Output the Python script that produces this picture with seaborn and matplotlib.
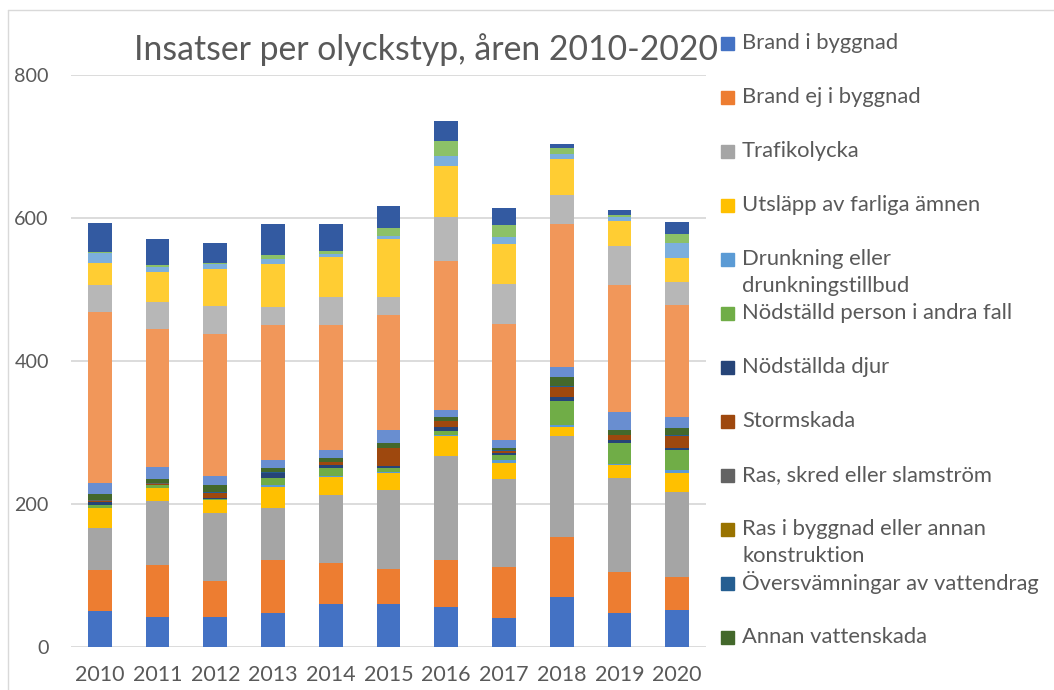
import numpy as np, pandas as pd, matplotlib
matplotlib.use('Agg')
import matplotlib.pyplot as plt
import matplotlib.patches as mpatches
from matplotlib.lines import Line2D
import seaborn as sns

# ── Data (insatser per olyckstyp) ────────────────────────────────────────────
years = ['2010', '2011', '2012', '2013', '2014', '2015', '2016', '2017', '2018', '2019', '2020']

brand_i_byggnad     = [51, 42, 42, 47, 60, 60, 56, 40, 70, 48, 52]
brand_ej_i_byggnad  = [56, 72, 50, 74, 57, 49, 66, 72, 84, 57, 46]
trafikolycka        = [60, 90, 95, 73, 96, 110, 145, 123, 141, 131, 119]
utslapp             = [27, 19, 18, 30, 25, 24, 28, 23, 12, 18, 26]
drunkning           = [1, 0, 1, 2, 1, 2, 1, 3, 3, 2, 5]
nodstalld_person    = [4, 3, 1, 11, 11, 5, 6, 8, 34, 30, 28]
nodstallda_djur     = [4, 1, 2, 7, 5, 3, 6, 2, 5, 4, 2]
stormskada          = [1, 1, 6, 0, 4, 25, 8, 3, 15, 6, 17]
ras_skred           = [1, 1, 1, 0, 0, 0, 0, 0, 0, 0, 0]
ras_i_byggnad       = [0, 1, 0, 0, 0, 0, 0, 0, 0, 0, 0]
oversvamningar      = [1, 0, 1, 1, 0, 1, 0, 1, 1, 1, 1]
annan_vattenskada   = [8, 5, 9, 6, 5, 7, 6, 3, 12, 7, 10]
# series beyond the (cut-off) legend
forsta_dolda        = [16, 17, 13, 10, 12, 17, 9, 11, 14, 24, 16]
automatlarm         = [238, 193, 199, 190, 174, 161, 209, 163, 200, 178, 157]
annan_handelse      = [38, 37, 39, 25, 40, 26, 61, 55, 41, 55, 32]
hjalp_ambulans      = [31, 43, 52, 60, 55, 80, 72, 57, 51, 35, 33]
hjalp_polis         = [14, 7, 6, 7, 5, 5, 14, 10, 7, 6, 21]
sjukvardslarm       = [2, 2, 2, 5, 4, 11, 20, 16, 8, 2, 12]
ovrigt              = [40, 36, 28, 44, 37, 31, 28, 24, 6, 7, 17]

series_names = ['Brand i byggnad', 'Brand ej i byggnad', 'Trafikolycka',
                'Utsläpp av farliga ämnen', 'Drunkning eller\ndrunkningstillbud',
                'Nödställd person i andra fall', 'Nödställda djur', 'Stormskada',
                'Ras, skred eller slamström', 'Ras i byggnad eller annan\nkonstruktion',
                'Översvämningar av vattendrag', 'Annan vattenskada',
                'Förmodad brand', 'Automatlarm ej brand', 'Annan händelse utan risk för skada',
                'Hjälp till ambulans', 'Hjälp till polis', 'Sjukvårdslarm', 'Övrigt']
series_vals = [brand_i_byggnad, brand_ej_i_byggnad, trafikolycka, utslapp, drunkning,
               nodstalld_person, nodstallda_djur, stormskada, ras_skred, ras_i_byggnad,
               oversvamningar, annan_vattenskada, forsta_dolda, automatlarm, annan_handelse,
               hjalp_ambulans, hjalp_polis, sjukvardslarm, ovrigt]

PALETTE = ['#4472C4', '#ED7D31', '#A5A5A5', '#FFC000', '#5B9BD5', '#70AD47',
           '#264478', '#9E480E', '#636363', '#997300', '#255E91', '#43682B',
           '#698ED0', '#F1975A', '#B7B7B7', '#FFCD33', '#7CAFDD', '#8CC168', '#335AA1']
N_LEGEND = 12
TXT = '#595959'
GRID = '#D9D9D9'

sns.set_style('white')
plt.rcParams['font.family'] = ['Lato', 'DejaVu Sans']

W, H = 1054, 690
fig = plt.figure(figsize=(W / 100, H / 100), dpi=100)
ax = fig.add_axes([71 / W, 1 - 647 / H, (706 - 71) / W, (647 - 75) / H])

bottoms = np.zeros(len(years))
for name, vals, col in zip(series_names, series_vals, PALETTE):
    df = pd.DataFrame({'year': years, 'n': vals})
    sns.barplot(data=df, x='year', y='n', order=years, color=col, width=0.41,
                errorbar=None, bottom=bottoms.copy(), linewidth=0, saturation=1, ax=ax)
    bottoms += np.array(vals)

ax.set_xlim(-0.5, len(years) - 0.5)
ax.set_ylim(0, 800)
ax.set_yticks(range(0, 801, 200))
ax.set_xlabel(''); ax.set_ylabel('')
ax.yaxis.grid(True, color=GRID, lw=1.3)
ax.set_axisbelow(True)
for s in ax.spines.values():
    s.set_visible(False)
ax.tick_params(axis='both', length=0, labelcolor=TXT)
ax.tick_params(axis='y', pad=16, labelsize=14.2)
ax.tick_params(axis='x', pad=13, labelsize=15.5)

fig.text(426 / W, 1 - 50 / H, 'Insatser per olyckstyp, åren 2010-2020',
         ha='center', va='center', fontsize=24.3, color=TXT)

# legend (only the first 12 entries are visible in the original)
for i in range(N_LEGEND):
    yc = 43 + i * 54
    fig.patches.append(mpatches.Rectangle((721 / W, 1 - (yc + 7) / H), 13 / W, 13 / H,
                                          transform=fig.transFigure, color=PALETTE[i]))
    for k, line in enumerate(series_names[i].split('\n')):
        fig.text(742 / W, 1 - (yc + k * 27) / H, line, ha='left', va='center',
                 fontsize=15.8, color=TXT)

# chart border (left and top edges)
fig.add_artist(Line2D([8 / W, 8 / W], [0, 1 - 10 / H], color=GRID, lw=1))
fig.add_artist(Line2D([8 / W, 1], [1 - 10 / H, 1 - 10 / H], color=GRID, lw=1))

plt.savefig('out.png', dpi=100)
plt.close()
